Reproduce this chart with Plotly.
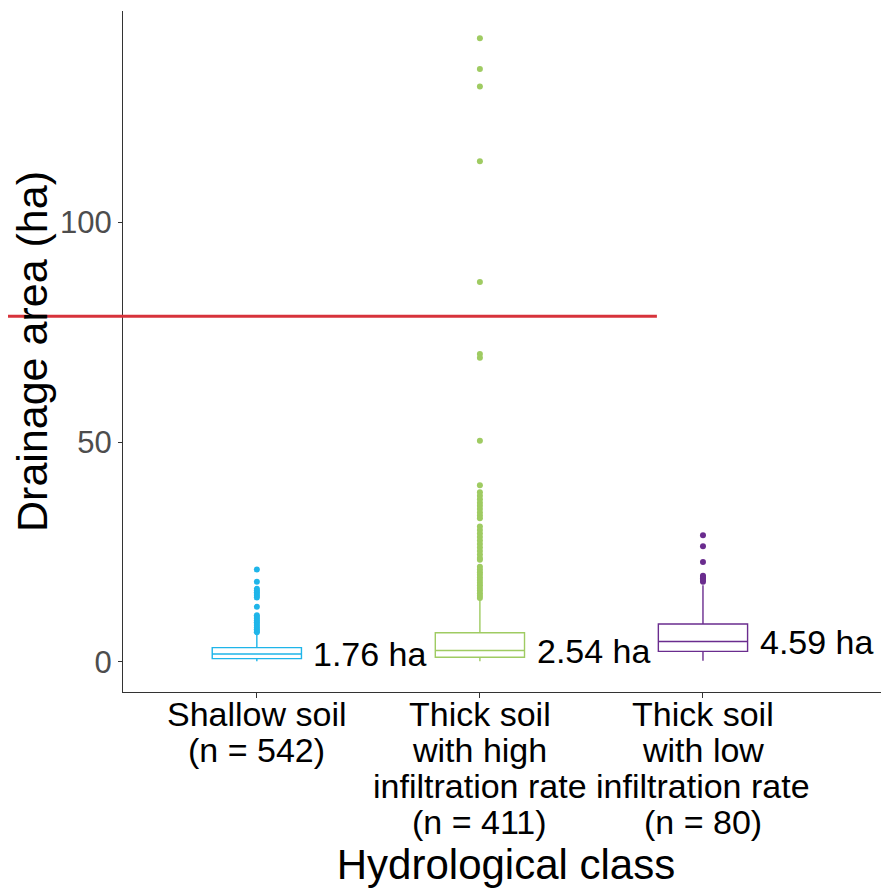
import plotly.graph_objects as go

# Hydrological classes (one box per class)
categories = ["shallow", "thick_high", "thick_low"]
label_lines = [
    ["Shallow soil", "(n = 542)"],
    ["Thick soil", "with high", "infiltration rate", "(n = 411)"],
    ["Thick soil", "with low", "infiltration rate", "(n = 80)"],
]
colors = ["#1FB5E9", "#9FCB62", "#6A2C8E"]

# Box statistics (ha)
q1 = [0.7, 1.0, 2.35]
median = [1.76, 2.54, 4.59]
q3 = [3.2, 6.6, 8.6]
lowerfence = [0.1, 0.1, 0.2]
upperfence = [6.4, 14.1, 17.4]
median_labels = ["1.76 ha", "2.54 ha", "4.59 ha"]

outliers_shallow = [21.0, 18.2, 16.6, 16.2, 15.8, 15.4, 15.0, 14.6, 12.5, 10.6,
                    10.2, 9.8, 9.4, 9.0, 8.6, 8.2, 7.8, 7.4, 7.0, 6.7]
outliers_high = [142.0, 135.0, 131.0, 114.0, 86.5, 70.1, 69.2, 50.3, 40.2,
                 38.6, 37.8, 37.0, 36.2, 35.5, 34.8, 34.0, 33.3, 32.7,
                 30.8, 30.0, 29.2, 28.4, 27.6, 26.8, 26.0, 25.2, 24.4, 23.6, 23.2,
                 21.6, 21.0, 20.4, 19.8, 19.2, 18.6, 18.0, 17.4, 16.8, 16.2,
                 15.6, 15.0, 14.5]
outliers_low = [28.8, 26.3, 22.7, 19.6, 19.3, 19.0, 18.6, 18.2]
outliers = [outliers_shallow, outliers_high, outliers_low]

# red reference line drawn across the upper part of the figure
red_line_y = 78.7

FONT = "Liberation Sans, Arial, sans-serif"

fig = go.Figure()

for i, cat in enumerate(categories):
    fig.add_trace(go.Box(
        x=[cat], q1=[q1[i]], median=[median[i]], q3=[q3[i]],
        lowerfence=[lowerfence[i]], upperfence=[upperfence[i]],
        width=0.4, whiskerwidth=0, boxpoints=False,
        line=dict(color=colors[i], width=1.4),
        fillcolor="rgba(0,0,0,0)", hoverinfo="skip", showlegend=False,
    ))
    fig.add_trace(go.Scatter(
        x=[cat] * len(outliers[i]), y=outliers[i], mode="markers",
        marker=dict(color=colors[i], size=6), showlegend=False,
    ))

annotations = []
# median labels beside each box
for i, txt in enumerate(median_labels):
    annotations.append(dict(
        x=i + 0.245, y=median[i], xref="x", yref="y", text=txt,
        xanchor="left", yanchor="middle", showarrow=False,
        font=dict(family=FONT, size=34, color="black"),
    ))
# category labels, one annotation per line for the tight line spacing
for i, lines in enumerate(label_lines):
    for j, line in enumerate(lines):
        annotations.append(dict(
            x=i, y=0, xref="x", yref="paper", text=line,
            xanchor="center", yanchor="middle", yshift=-22 - 36 * j,
            showarrow=False, font=dict(family=FONT, size=34, color="black"),
        ))

# the page body has an 8px margin, so the figure is sized to fit the window
fig.update_layout(
    width=881, height=886,
    margin=dict(l=115, r=0, t=3, b=202),
    paper_bgcolor="white", plot_bgcolor="white",
    boxmode="overlay",
    font=dict(family=FONT),
    annotations=annotations,
    shapes=[dict(type="line", xref="paper", yref="y",
                 x0=-0.1606, x1=0.697, y0=red_line_y, y1=red_line_y,
                 line=dict(color="#D7333B", width=3))],
    xaxis=dict(
        type="category", categoryorder="array", categoryarray=categories,
        range=[-0.6, 2.834], showticklabels=False,
        ticks="outside", ticklen=5, tickcolor="#333333",
        showline=True, linecolor="#333333", linewidth=1.3,
        showgrid=False, zeroline=False,
        title=dict(text="Hydrological class", standoff=152,
                   font=dict(family=FONT, size=42, color="black")),
    ),
    yaxis=dict(
        range=[-6.9, 148.2], tickvals=[0, 50, 100],
        ticks="outside", ticklen=4, tickcolor="#333333",
        tickfont=dict(family=FONT, size=31, color="#4D4D4D"),
        showline=True, linecolor="#333333", linewidth=1.3,
        showgrid=False, zeroline=False,
        title=dict(text="Drainage area (ha)", standoff=5,
                   font=dict(family=FONT, size=43, color="black")),
    ),
)

fig.write_html("out.html")
